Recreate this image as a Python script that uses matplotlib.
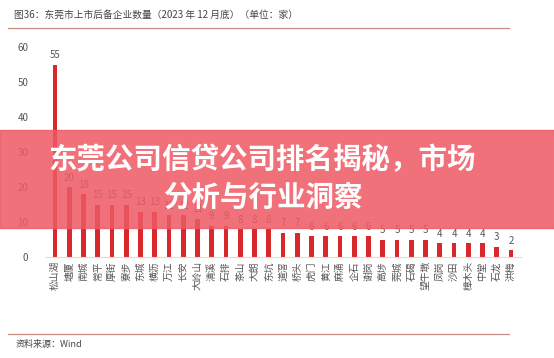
import matplotlib.pyplot as plt

plt.rcParams['font.family'] = ['Noto Sans CJK SC', 'DejaVu Sans']

# data
districts = ['松山湖', '塘厦', '南城', '常平', '厚街', '寮步', '东城', '横沥', '万江', '长安',
             '大岭山', '清溪', '石排', '茶山', '大朗', '东坑', '道滘', '桥头', '虎门', '黄江',
             '麻涌', '企石', '谢岗', '高埗', '莞城', '石碣', '望牛墩', '凤岗', '沙田', '樟木头',
             '中堂', '石龙', '洪梅']
counts = [55, 20, 18, 15, 15, 15, 13, 13, 12, 12,
          11, 9, 9, 8, 8, 8, 7, 7, 6, 6,
          6, 6, 6, 5, 5, 5, 5, 4, 4, 4,
          4, 3, 2]
yticks = [0, 10, 20, 30, 40, 50, 60]

fig = plt.figure(figsize=(5.54, 3.58), dpi=100)
fig.patch.set_facecolor('white')

# header / footer
fig.text(0.025, 0.958, '图36：东莞市上市后备企业数量（2023 年 12 月底）（单位：家）',
         fontsize=7, color='#444444', va='center', ha='left')
fig.add_artist(plt.Line2D([0.015, 0.918], [0.922, 0.922], color='#c98a84', lw=0.9))
fig.add_artist(plt.Line2D([0.015, 0.918], [0.067, 0.067], color='#c98a84', lw=0.9))
fig.text(0.028, 0.038, '资料来源：Wind', fontsize=6.5, color='#444444', va='center', ha='left')

ax = fig.add_axes([45 / 554, 1 - 257 / 358, 476 / 554, 210 / 358])
x = list(range(len(districts)))
ax.bar(x, counts, width=0.32, color='#d9282c', zorder=2)
for xi, v in zip(x, counts):
    ax.text(xi, v + 1.2, str(v), ha='center', va='bottom', fontsize=7, color='#555555')

ax.set_xlim(-0.7, len(districts) - 0.3)
ax.set_ylim(0, 60)
ax.set_yticks(yticks)
ax.set_xticks(x)
ax.set_xticklabels(districts, rotation=90, fontsize=7, color='#444444')
ax.tick_params(axis='both', length=0, colors='#555555', labelsize=7)
ax.tick_params(axis='y', pad=12)
ax.tick_params(axis='x', pad=3)
for s in ['top', 'right', 'left']:
    ax.spines[s].set_visible(False)
ax.spines['bottom'].set_color('#dddddd')

# banner overlay
fig.add_artist(plt.Rectangle((0, 1 - 228 / 358), 1, 98 / 358, transform=fig.transFigure,
                             color='#ee5a64', alpha=0.86, zorder=5))
fig.text(0.473, 1 - 160 / 358, '东莞公司信贷公司排名揭秘，市场', fontsize=20.5, fontweight='bold',
         color='white', ha='center', va='center', zorder=6)
fig.text(0.475, 1 - 198 / 358, '分析与行业洞察', fontsize=20.5, fontweight='bold',
         color='white', ha='center', va='center', zorder=6)

fig.savefig('out.png', dpi=100)
